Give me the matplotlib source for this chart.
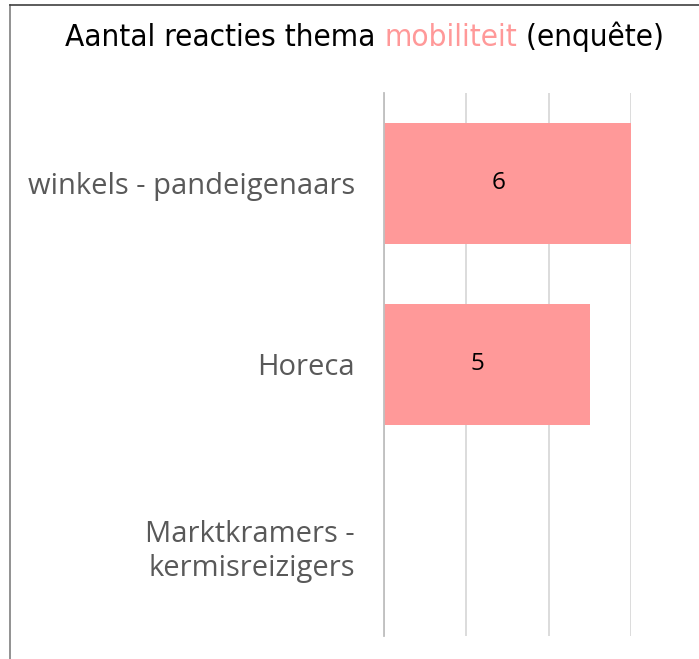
import matplotlib.pyplot as plt
import matplotlib.lines as mlines

categories = ["winkels - pandeigenaars", "Horeca", "Marktkramers -\nkermisreizigers"]
values = [6, 5, 0]
title_parts = ["Aantal reacties thema ", "mobiliteit", " (enquête)"]
title_colors = ["black", "#FF9999", "black"]

pink = "#FF9999"

fig = plt.figure(figsize=(6.99, 6.59), dpi=100)
ax = fig.add_axes([0.5494, 0.0349, 0.3533, 0.824])

ypos = range(len(categories))
bars = ax.barh(ypos, values, height=0.67, color=pink)
for i, v in enumerate(values):
    if v > 0:
        ax.text(v / 2 - 0.22, i, str(v), ha="center", va="center", fontsize=17.5,
                color="black", family="Open Sans")

ax.set_xlim(0, 6)
ax.set_ylim(2.5, -0.5)
ax.set_xticks([0, 2, 4, 6])
ax.set_xticklabels([])
ax.xaxis.grid(True, color="#d9d9d9", linewidth=1.3)
ax.set_axisbelow(True)
ax.tick_params(axis="both", length=0)
ax.set_yticks(list(ypos))
ax.set_yticklabels(categories, fontsize=21, color="#595959", family="Open Sans",
                   linespacing=1.25)
ax.tick_params(axis="y", pad=21)
for s in ["top", "right", "bottom"]:
    ax.spines[s].set_visible(False)
ax.spines["left"].set_color("#bfbfbf")
ax.spines["left"].set_linewidth(1.3)

# title in pieces so one word can be coloured
fig.canvas.draw()
r = fig.canvas.get_renderer()
x = 65 / 699
for part, col in zip(title_parts, title_colors):
    t = fig.text(x, 1 - 37 / 659, part, color=col, fontsize=22.6, va="center",
                 ha="left", family="DejaVu Sans", fontstretch="condensed",
                 fontweight="light")
    bb = t.get_window_extent(renderer=r)
    x += bb.width / fig.bbox.width

# outer frame (left and top edges show)
fig.add_artist(mlines.Line2D([10 / 699, 10 / 699], [0, 1 - 5 / 659],
                             color="#7f7f7f", linewidth=1.2))
fig.add_artist(mlines.Line2D([10 / 699, 1], [1 - 5 / 659, 1 - 5 / 659],
                             color="#404040", linewidth=1.2))

fig.savefig("out.png", dpi=100)
